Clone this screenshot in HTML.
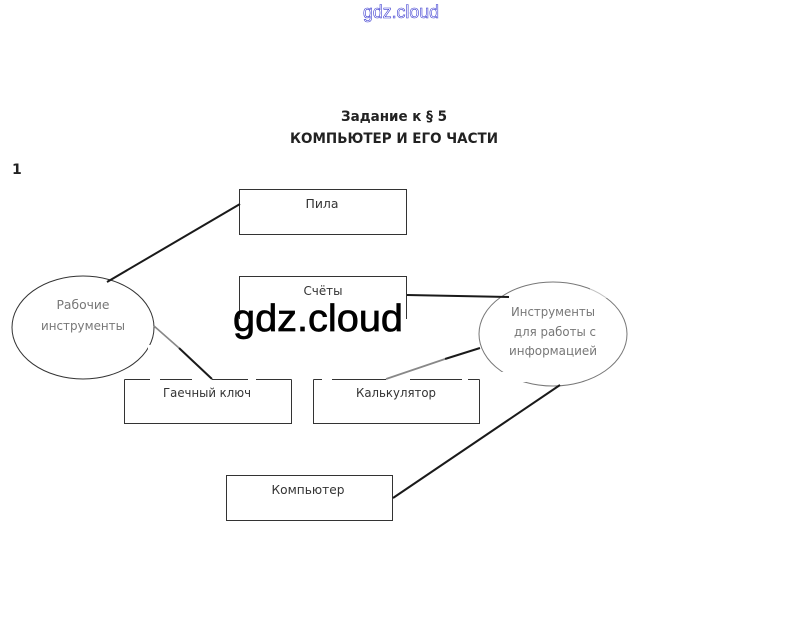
<!DOCTYPE html>
<html><head><meta charset="utf-8">
<style>
html,body{margin:0;padding:0;background:#fff}
svg{display:block}
text{font-family:"DejaVu Sans","Liberation Sans",sans-serif}
</style></head>
<body>
<svg width="802" height="630" viewBox="0 0 802 630" xmlns="http://www.w3.org/2000/svg">
<rect width="802" height="630" fill="#fff"/>
<text x="401" y="18" text-anchor="middle" font-size="18" fill="#fff" stroke="#3a3ad0" stroke-width="0.6" style='font-family:"Liberation Sans",sans-serif' textLength="76" lengthAdjust="spacingAndGlyphs">gdz.cloud</text>
<text x="394" y="121" text-anchor="middle" font-size="14" font-weight="bold" fill="#222" textLength="106" lengthAdjust="spacingAndGlyphs">Задание к § 5</text>
<text x="394" y="143" text-anchor="middle" font-size="14" font-weight="bold" fill="#222" textLength="208" lengthAdjust="spacingAndGlyphs">КОМПЬЮТЕР И ЕГО ЧАСТИ</text>
<text x="12" y="174" font-size="14" font-weight="bold" fill="#222">1</text>

<g fill="none" stroke="#333" stroke-width="1">
<rect x="239.5" y="189.5" width="167" height="45"/>
<path d="M239.5 319V276.5H406.5V319"/>
<path d="M124.5 379.5V423.5H291.5V379.5"/>
<path d="M124.5 379.5H150M160 379.5H192M212 379.5H248M256 379.5H291.5" />
<path d="M313.5 379.5V423.5H479.5V379.5"/>
<path d="M313.5 379.5H322M332 379.5H386M410 379.5H462M468 379.5H479.5"/>
<rect x="226.5" y="475.5" width="166" height="45"/>
<ellipse cx="83" cy="327.5" rx="71" ry="51.5"/>
<ellipse cx="553" cy="334" rx="74" ry="52" stroke="#777"/>
</g>
<g fill="#fff" stroke="none">
<rect x="590" y="280" width="34" height="18" opacity=".55"/>
<rect x="500" y="372" width="26" height="10"/>
<rect x="148" y="345" width="8" height="12"/>
</g>

<g fill="none" stroke="#1a1a1a" stroke-width="2">
<line x1="107" y1="282" x2="240" y2="204"/>
<line x1="179" y1="348" x2="212" y2="379"/>
<line x1="407" y1="295" x2="509" y2="297"/>
<line x1="445" y1="359" x2="480" y2="348"/>
<line x1="393" y1="498" x2="560" y2="385"/>
</g>
<line x1="154" y1="326" x2="179" y2="348" stroke="#888" stroke-width="1.6"/>
<line x1="386" y1="379" x2="445" y2="359" stroke="#888" stroke-width="1.8"/>

<g font-size="12" fill="#333" text-anchor="middle">
<text x="322" y="208" textLength="33" lengthAdjust="spacingAndGlyphs">Пила</text>
<text x="323" y="295" textLength="39" lengthAdjust="spacingAndGlyphs">Счёты</text>
<text x="207" y="397" textLength="88" lengthAdjust="spacingAndGlyphs">Гаечный ключ</text>
<text x="396" y="397" textLength="80" lengthAdjust="spacingAndGlyphs">Калькулятор</text>
<text x="308" y="494" textLength="73" lengthAdjust="spacingAndGlyphs">Компьютер</text>
</g>
<g font-size="12" fill="#777" text-anchor="middle">
<text x="83" y="309" textLength="53" lengthAdjust="spacingAndGlyphs">Рабочие</text>
<text x="83" y="330" textLength="84" lengthAdjust="spacingAndGlyphs">инструменты</text>
<text x="553" y="316" textLength="84" lengthAdjust="spacingAndGlyphs">Инструменты</text>
<text x="555" y="336" textLength="82" lengthAdjust="spacingAndGlyphs">для работы с</text>
<text x="553" y="355" textLength="88" lengthAdjust="spacingAndGlyphs">информацией</text>
</g>

<text x="318" y="331" text-anchor="middle" font-size="38" fill="#000" stroke="#000" stroke-width="0.7" style='font-family:"Liberation Sans",sans-serif' textLength="170" lengthAdjust="spacingAndGlyphs">gdz.cloud</text>
</svg>
</body></html>
